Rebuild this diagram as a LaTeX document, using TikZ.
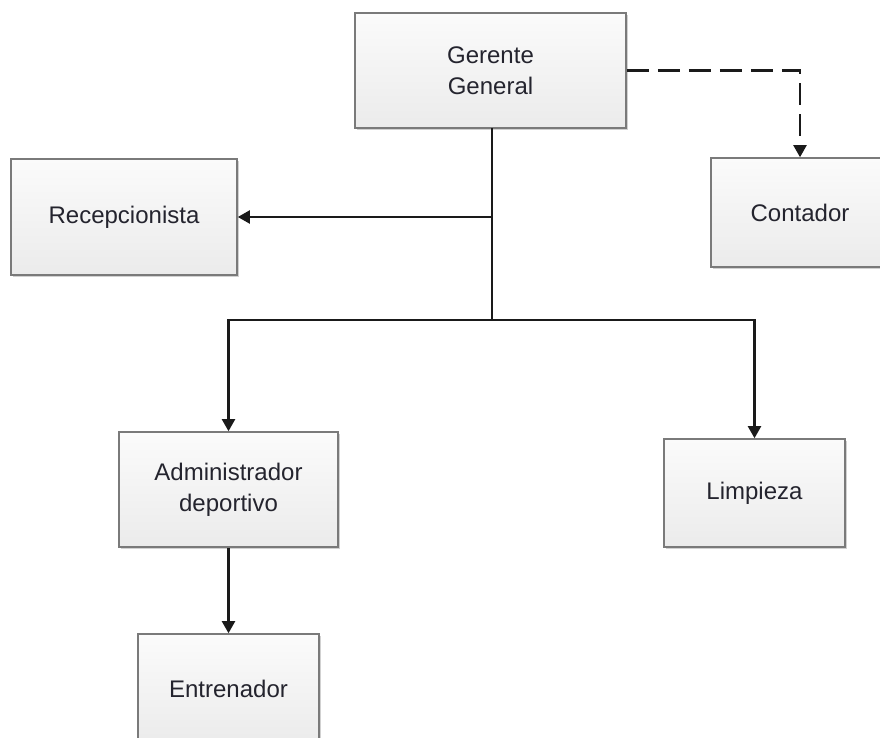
\documentclass[tikz,border=0pt]{standalone}
\usepackage{fontspec}
\setmainfont{Liberation Sans}
\usetikzlibrary{arrows.meta,shadows}
\definecolor{boxline}{HTML}{7A7A7A}
\definecolor{boxtop}{HTML}{FBFBFB}
\definecolor{boxbot}{HTML}{EBEBEB}
\definecolor{txt}{HTML}{24242E}
\definecolor{conncol}{HTML}{1A1A1A}
\tikzset{
  orgbox/.style={draw=boxline, line width=1.6pt, top color=boxtop, bottom color=boxbot,
    align=center, text=txt, font=\fontsize{24}{31}\selectfont, inner sep=0pt,
    drop shadow={shadow xshift=2pt, shadow yshift=-2pt, opacity=0.18, fill=black}},
  link/.style={draw=conncol, line width=2.1pt},
  arr/.style={link, -{Triangle[width=13pt,length=12pt]}},
  dasharr/.style={arr, dash pattern=on 22pt off 9pt}
}
\begin{document}
\begin{tikzpicture}[x=1pt,y=-1pt]
\useasboundingbox (0,0) rectangle (880,737);
\node[orgbox, minimum width=271pt, minimum height=115pt] (g) at (490.5,70.5) {Gerente\\General};
\node[orgbox, minimum width=226pt, minimum height=116pt] (r) at (124,217) {Recepcionista};
\node[orgbox, minimum width=178pt, minimum height=109pt] (c) at (800,212.5) {Contador};
\node[orgbox, minimum width=219pt, minimum height=115pt] (a) at (228.5,489.5) {Administrador\\deportivo};
\node[orgbox, minimum width=181pt, minimum height=108pt] (l) at (754.5,493) {Limpieza};
\node[orgbox, minimum width=181pt, minimum height=110pt] (e) at (228.5,689) {Entrenador};
\coordinate (jr) at (492,217);
\coordinate (jb) at (492,320);
\coordinate (gs) at (492,128);
\draw[link] (gs) -- (jb);
\draw[arr] (jr) -- (r.east);
\draw[arr] (jb) -| (a.north);
\draw[arr] (jb) -| (l.north);
\draw[arr] (a.south) -- (e.north);
\draw[dasharr] (g.east) -| (c.north);
\end{tikzpicture}
\end{document}
